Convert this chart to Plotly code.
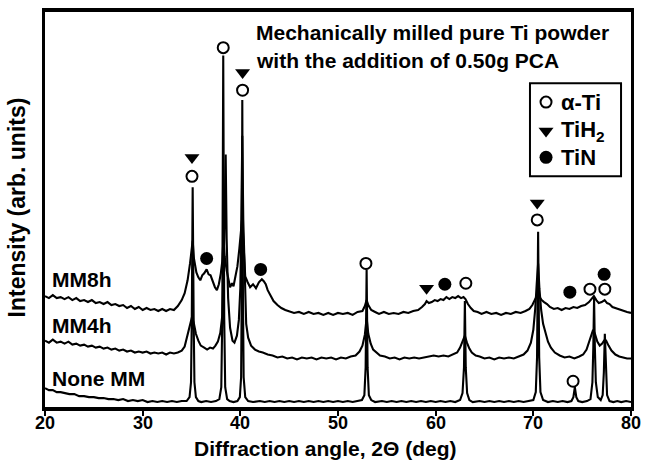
import plotly.graph_objects as go

# ---------------- data (2-theta in deg, intensity in arb. units) ----------------
mm8h_x = [20.0, 20.4, 20.8, 21.2, 21.6, 22.0, 22.4, 22.8, 23.2, 23.6, 24.0, 24.4, 24.8, 25.2, 25.6, 26.0, 26.4, 26.8,
          27.2, 27.6, 28.0, 28.4, 28.8, 29.2, 29.6, 30.0, 30.4, 30.8, 31.2, 31.6, 32.0, 32.4, 32.8, 33.2, 33.6, 34.0,
          34.3, 34.6, 34.85, 35.0, 35.12, 35.25, 35.5, 35.7, 35.9, 36.1, 36.3, 36.55, 36.75, 36.95, 37.2, 37.4, 37.6,
          37.8, 38.0, 38.15, 38.27, 38.4, 38.6, 38.8, 38.95, 39.15, 39.3, 39.5, 39.7, 39.9, 40.05, 40.2, 40.35, 40.5,
          40.75, 41.0, 41.3, 41.6, 41.9, 42.2, 42.4, 42.6, 42.8, 43.1, 43.4, 43.8, 44.2, 44.6, 45.0, 45.5, 46.0, 46.5,
          47.0, 47.5, 48.0, 48.5, 49.0, 49.5, 50.0, 50.5, 51.0, 51.5, 52.0, 52.5, 52.75, 52.93, 53.1, 53.4, 53.8, 54.2,
          54.7, 55.2, 55.7, 56.2, 56.7, 57.2, 57.7, 58.2, 58.6, 58.9, 59.07, 59.3, 59.6, 59.9, 60.2, 60.5, 60.8, 61.1,
          61.4, 61.7, 62.0, 62.3, 62.6, 62.85, 63.05, 63.3, 63.6, 63.9, 64.3, 64.7, 65.2, 65.7, 66.2, 66.7, 67.2, 67.7,
          68.2, 68.7, 69.2, 69.6, 69.9, 70.15, 70.35, 70.49, 70.65, 70.85, 71.1, 71.4, 71.7, 72.1, 72.5, 72.9, 73.3,
          73.7, 74.1, 74.5, 74.9, 75.3, 75.7, 76.0, 76.2, 76.45, 76.7, 77.0, 77.3, 77.55, 77.8, 78.1, 78.4, 78.8, 79.2,
          79.6, 80.0]
mm8h_y = [112, 110, 113, 110, 111, 109, 111, 108, 110, 107, 108, 106, 108, 105, 106, 104, 106, 103,
          104, 102, 103, 100, 102, 99, 101, 98, 100, 98, 99, 97, 99, 97, 99, 98, 102, 108,
          115, 128, 145, 158, 168, 150, 136, 131, 128, 133, 135, 139, 134, 133, 126, 121, 118,
          124, 135, 147, 170, 152, 138, 127, 121, 125, 122, 132, 142, 160, 180, 192, 160, 132,
          126, 121, 124, 120, 126, 129, 127, 124, 118, 112, 107, 103, 100, 98, 97, 95, 96, 94,
          96, 94, 95, 93, 95, 93, 95, 94, 95, 93, 96, 97, 102, 108, 103, 98, 96, 94,
          96, 94, 95, 94, 96, 95, 97, 98, 101, 104, 107, 105, 106, 108, 107, 109, 108, 111,
          109, 111, 110, 112, 110, 111, 109, 104, 100, 97, 96, 94, 96, 94, 95, 93, 95, 94,
          96, 95, 97, 99, 103, 108, 112, 115, 111, 108, 106, 104, 101, 99, 100, 98, 100,
          99, 101, 100, 102, 103, 106, 109, 112, 108, 105, 106, 108, 105, 104, 101, 100, 98, 97,
          96, 95]

mm4h_x = [20.0, 20.4, 20.8, 21.2, 21.6, 22.0, 22.4, 22.8, 23.2, 23.6, 24.0, 24.4, 24.8, 25.2, 25.6, 26.0, 26.4, 26.8,
          27.2, 27.6, 28.0, 28.4, 28.8, 29.2, 29.6, 30.0, 30.4, 30.8, 31.2, 31.6, 32.0, 32.4, 32.8, 33.2, 33.6, 34.0,
          34.3, 34.6, 34.85, 35.05, 35.25, 35.45, 35.7, 35.95, 36.3, 36.6, 36.9, 37.2, 37.45, 37.7, 37.95, 38.15, 38.3,
          38.42, 38.5, 38.6, 38.75, 38.95, 39.2, 39.4, 39.65, 39.85, 40.0, 40.1, 40.2, 40.3, 40.45, 40.6, 40.8, 41.1,
          41.5, 41.9, 42.3, 42.8, 43.3, 43.8, 44.3, 44.8, 45.3, 45.8, 46.3, 46.8, 47.3, 47.8, 48.3, 48.8, 49.3, 49.8,
          50.3, 50.8, 51.3, 51.8, 52.2, 52.5, 52.75, 52.93, 53.1, 53.35, 53.6, 53.9, 54.3, 54.8, 55.3, 55.8, 56.3, 56.8,
          57.3, 57.8, 58.3, 58.8, 59.3, 59.8, 60.3, 60.8, 61.3, 61.8, 62.2, 62.5, 62.75, 62.99, 63.2, 63.45, 63.7, 64.1,
          64.5, 65.0, 65.5, 66.0, 66.5, 67.0, 67.5, 68.0, 68.5, 69.0, 69.4, 69.75, 70.0, 70.2, 70.35, 70.49, 70.62,
          70.8, 71.0, 71.25, 71.5, 71.8, 72.2, 72.7, 73.2, 73.7, 74.2, 74.7, 75.1, 75.45, 75.75, 76.0, 76.12, 76.3,
          76.55, 76.8, 77.05, 77.25, 77.45, 77.7, 78.0, 78.4, 78.8, 79.2, 79.6, 80.0]
mm4h_y = [67, 65, 68, 65, 66, 64, 66, 63, 64, 62, 63, 61, 62, 60, 61, 59, 60, 58,
          59, 57, 58, 56, 57, 55, 56, 55, 56, 54, 55, 54, 55, 53, 55, 54, 55, 57,
          61, 72, 84, 91, 84, 74, 67, 62, 60, 58, 60, 59, 62, 66, 75, 92, 140,
          220, 255, 170, 110, 80, 67, 65, 72, 88, 120, 190, 274, 190, 120, 84, 70, 62,
          58, 56, 55, 53, 52, 50, 51, 49, 50, 48, 50, 49, 50, 48, 50, 49, 50, 48,
          50, 49, 51, 52, 56, 62, 73, 90, 74, 64, 58, 55, 52, 51, 49, 50, 48, 50,
          49, 50, 49, 50, 51, 52, 51, 52, 51, 53, 55, 60, 67, 72, 65, 59, 55, 52,
          51, 49, 50, 48, 50, 49, 50, 49, 51, 53, 57, 65, 78, 100, 125, 145, 120,
          98, 84, 74, 66, 60, 55, 52, 50, 51, 49, 51, 53, 58, 66, 74, 78, 74,
          66, 62, 64, 67, 67, 62, 57, 53, 51, 50, 49, 49]

none_x = [20.0, 20.4, 20.8, 21.2, 21.6, 22.0, 22.5, 23.0, 23.5, 24.0, 24.5, 25.0, 25.5, 26.0, 26.5, 27.0, 27.5, 28.0,
          28.5, 29.0, 29.5, 30.0, 30.5, 31.0, 31.5, 32.0, 32.5, 33.0, 33.5, 34.0, 34.5, 34.8, 34.95, 35.03, 35.12,
          35.22, 35.3, 35.45, 35.7, 36.0, 36.5, 37.0, 37.5, 37.85, 38.05, 38.15, 38.25, 38.35, 38.45, 38.65, 38.9,
          39.3, 39.7, 39.95, 40.08, 40.14, 40.2, 40.27, 40.34, 40.5, 40.8, 41.3, 42.0, 42.5, 43.0, 43.5, 44.0, 44.5,
          45.0, 45.5, 46.0, 46.5, 47.0, 47.5, 48.0, 48.5, 49.0, 49.5, 50.0, 50.5, 51.0, 51.5, 52.0, 52.45, 52.7,
          52.83, 52.93, 53.03, 53.16, 53.4, 53.8, 54.5, 55.0, 55.5, 56.0, 56.5, 57.0, 57.5, 58.0, 58.5, 59.0, 59.5,
          60.0, 60.5, 61.0, 61.5, 62.0, 62.5, 62.75, 62.9, 62.99, 63.08, 63.22, 63.45, 63.8, 64.5, 65.0, 65.5, 66.0,
          66.5, 67.0, 67.5, 68.0, 68.5, 69.0, 69.5, 70.0, 70.25, 70.38, 70.49, 70.6, 70.73, 71.0, 71.5, 72.0, 72.5,
          73.0, 73.5, 73.9, 74.1, 74.25, 74.4, 74.6, 75.0, 75.5, 75.85, 76.05, 76.14, 76.22, 76.3, 76.4, 76.6, 76.9,
          77.1, 77.22, 77.32, 77.42, 77.55, 77.8, 78.2, 78.6, 79.0, 79.5, 80.0]
none_y = [19, 17, 17, 15, 15, 14, 13, 13, 11, 11, 10, 10, 9, 9, 8, 8, 7, 8,
          6, 7, 6, 7, 5, 6, 5, 6, 5, 6, 5, 6, 6, 10, 25, 90, 222,
          90, 25, 10, 6, 5, 6, 5, 6, 8, 20, 90, 355, 90, 20, 8, 6,
          5, 6, 10, 30, 110, 310, 110, 30, 10, 6, 5, 6, 5, 6, 5, 6, 5,
          6, 5, 6, 5, 6, 5, 6, 5, 6, 5, 6, 5, 6, 5, 6, 7, 12,
          40, 139, 40, 12, 7, 5, 6, 5, 6, 5, 6, 5, 6, 5, 6, 5, 6,
          5, 6, 5, 6, 5, 7, 14, 40, 107, 40, 14, 7, 5, 6, 5, 6, 5,
          6, 5, 6, 5, 6, 5, 6, 7, 15, 50, 177, 50, 15, 7, 5, 6, 5,
          6, 5, 6, 10, 20, 10, 6, 5, 6, 8, 25, 60, 110, 60, 25, 10, 7,
          12, 35, 74, 35, 12, 6, 5, 6, 5, 6, 5]

curve_names = ["MM8h", "MM4h", "None MM"]
curve_label_y = [128.5, 82.5, 28.5]

# phase markers (angle, level)
alpha_ti_x = [35.05, 38.25, 40.23, 52.86, 63.09, 70.4, 74.07, 75.8, 77.32]
alpha_ti_y = [233, 363, 320, 145, 125, 189, 26, 119, 119]
tih2_x = [35.05, 40.23, 59.07, 70.4]
tih2_y = [252, 338, 120, 206]
tin_x = [36.55, 42.08, 60.94, 73.74, 77.25]
tin_y = [150, 139, 124, 116, 134]

legend_names = ["α-Ti", "TiH<sub>2</sub>", "TiN"]
title_lines = ["Mechanically milled pure Ti powder", "with the addition of 0.50g PCA"]
x_ticks = [20, 30, 40, 50, 60, 70, 80]

FONT = "Liberation Sans, Arial, sans-serif"

fig = go.Figure()
for xs, ys in [(mm8h_x, mm8h_y), (mm4h_x, mm4h_y), (none_x, none_y)]:
    fig.add_trace(go.Scatter(x=xs, y=ys, mode="lines", line=dict(color="black", width=2.1),
                             showlegend=False, hoverinfo="skip"))

open_marker = dict(symbol="circle", size=11, color="white", line=dict(color="black", width=2))
tri_marker = dict(symbol="triangle-down", size=13, color="black", line=dict(width=0))
dot_marker = dict(symbol="circle", size=13, color="black", line=dict(width=0))

fig.add_trace(go.Scatter(x=alpha_ti_x, y=alpha_ti_y, mode="markers", marker=open_marker, showlegend=False))
fig.add_trace(go.Scatter(x=tih2_x, y=tih2_y, mode="markers", marker=tri_marker, showlegend=False))
fig.add_trace(go.Scatter(x=tin_x, y=tin_y, mode="markers", marker=dot_marker, showlegend=False))

# legend box (overlay axis in 0..1 units)
leg_sym_y = [0.772, 0.699, 0.632]
for i, mk in enumerate([open_marker, tri_marker, dot_marker]):
    fig.add_trace(go.Scatter(x=[0.855], y=[leg_sym_y[i]], mode="markers", marker=mk,
                             xaxis="x2", yaxis="y2", showlegend=False))
    fig.add_annotation(x=0.877, y=leg_sym_y[i], xref="x2", yref="y2", text="<b>" + legend_names[i] + "</b>",
                       showarrow=False, xanchor="left", yanchor="middle",
                       font=dict(family=FONT, size=22, color="black"))
fig.add_shape(type="rect", xref="paper", yref="paper", x0=0.8276, x1=0.983, y0=0.584, y1=0.8195,
              line=dict(color="black", width=2), fillcolor="white", layer="below")

for name, ly in zip(curve_names, curve_label_y):
    fig.add_annotation(x=20.5, y=ly, xref="x", yref="y", text="<b>" + name + "</b>", showarrow=False,
                       xanchor="left", yanchor="middle", font=dict(family=FONT, size=21, color="black"))

for i, line in enumerate(title_lines):
    fig.add_annotation(x=0.3568, y=[0.949, 0.876][i], xref="paper", yref="paper", text="<b>" + line + "</b>",
                       showarrow=False, xanchor="left", yanchor="middle",
                       font=dict(family=FONT, size=21, color="black"))

# x tick labels
for t in x_ticks:
    fig.add_annotation(x=t, y=-0.041, xref="x", yref="paper", text="<b>%d</b>" % t, showarrow=False,
                       xanchor="center", yanchor="middle", font=dict(family=FONT, size=18, color="black"))

fig.add_annotation(x=0.479, y=-0.105, xref="paper", yref="paper", text="<b>Diffraction angle, 2Θ (deg)</b>",
                   showarrow=False, xanchor="center", yanchor="middle",
                   font=dict(family=FONT, size=21, color="black"))
fig.add_annotation(x=-0.048, y=0.505, xref="paper", yref="paper", text="<b>Intensity (arb. units)</b>",
                   showarrow=False, xanchor="center", yanchor="middle", textangle=-90,
                   font=dict(family=FONT, size=23, color="black"))

fig.update_layout(
    width=653, height=467,
    margin=dict(l=45, r=22, t=8, b=60),
    paper_bgcolor="white", plot_bgcolor="white",
    showlegend=False,
    xaxis=dict(range=[20, 80], tickvals=x_ticks, ticks="outside", ticklen=5, tickwidth=2, tickcolor="black",
               showticklabels=False,
               showline=True, mirror=True, linewidth=3.5, linecolor="black", showgrid=False, zeroline=False),
    yaxis=dict(range=[0, 399], showticklabels=False, ticks="", showline=True, mirror=True, linewidth=3,
               linecolor="black", showgrid=False, zeroline=False),
    xaxis2=dict(range=[0, 1], overlaying="x", visible=False),
    yaxis2=dict(range=[0, 1], overlaying="y", visible=False),
)

fig.write_html("out.html")
